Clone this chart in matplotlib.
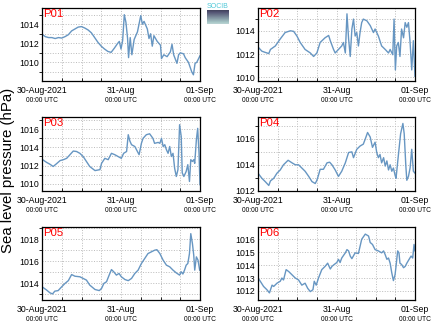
import matplotlib
matplotlib.use('Agg')
import matplotlib.pyplot as plt
import numpy as np
from matplotlib.ticker import MultipleLocator, FixedLocator

plt.rcParams['font.family'] = ['Liberation Sans', 'DejaVu Sans']

# hours since 30-Aug-2021 00:00 UTC and sea level pressure (hPa) per station
p01_h = [0, 1, 2, 3, 4, 5, 6, 7, 8, 9, 10, 11, 12, 13, 14, 15, 16, 17, 18, 19, 20, 21, 22, 23,
         23.5, 24, 24.5, 25, 25.5, 26, 26.3, 26.8, 27.3, 28, 29, 30, 30.5, 31, 32, 32.5, 33, 33.5,
         34, 35, 36, 36.3, 37, 38, 39, 39.5, 40, 41, 41.5, 42, 43, 43.5, 44.5, 45.5, 46, 46.5, 47, 48]
p01_v = [1012.95, 1012.7, 1012.6, 1012.6, 1012.5, 1012.6, 1012.55, 1012.7, 1012.9, 1013.3, 1013.5,
         1013.7, 1013.75, 1013.6, 1013.4, 1013.1, 1012.6, 1012.1, 1011.7, 1011.4, 1011.15, 1011.05,
         1011.5, 1012.0, 1012.2, 1011.4, 1012.3, 1015.0, 1014.2, 1012.5, 1010.5, 1012.6, 1010.8,
         1012.4, 1013.2, 1014.9, 1014.0, 1014.3, 1013.5, 1012.5, 1013.0, 1011.7, 1012.8, 1012.2,
         1011.8, 1010.4, 1010.8, 1010.6, 1011.1, 1011.9, 1010.8, 1009.9, 1010.8, 1011.0, 1010.9,
         1010.5, 1010.0, 1009.0, 1008.7, 1009.9, 1010.0, 1010.7]

p02_h = [0.2, 1.2, 2.2, 3.3, 3.8, 5.3, 6.8, 8.3, 9.9, 10.9, 11.9, 12.9, 14.4, 16.0, 17.0, 18.0,
         19.0, 20.5, 21.6, 22.1, 23.1, 23.6, 24.6, 25.6, 26.1, 26.7, 27.2, 27.7, 28.2, 28.7, 29.2,
         29.7, 30.2, 30.7, 31.2, 31.7, 32.2, 33.3, 34.3, 35.3, 35.8, 36.8, 37.8, 38.9, 39.9, 40.4,
         41.2, 41.6, 42.0, 42.4, 42.9, 43.4, 43.9, 44.5, 45.0, 45.5, 46.0, 46.5, 47.0, 47.5, 48.0]
p02_v = [1012.55, 1012.25, 1012.15, 1012.05, 1012.4, 1012.7, 1013.3, 1013.85, 1014.0, 1013.95,
         1013.55, 1013.0, 1012.4, 1012.1, 1011.8, 1012.1, 1013.0, 1013.4, 1013.6, 1013.15, 1012.4,
         1012.1, 1012.4, 1012.7, 1013.0, 1012.1, 1015.45, 1013.3, 1011.8, 1014.15, 1015.0, 1013.55,
         1013.85, 1012.7, 1013.85, 1014.7, 1015.0, 1014.85, 1014.45, 1013.85, 1014.15, 1013.55,
         1012.7, 1012.4, 1012.1, 1012.4, 1011.95, 1015.0, 1010.65, 1012.7, 1013.0, 1011.8, 1014.15,
         1013.4, 1014.7, 1014.3, 1014.7, 1013.0, 1010.65, 1013.15, 1010.1]

p03_h = [0, 1.4, 2.4, 3.4, 4.4, 5.5, 6.5, 7.5, 8.5, 9.5, 10.5, 11.5, 12.5, 13.5, 14.5, 16.1, 17.6,
         18.1, 19.1, 20.1, 21.1, 22.1, 23.1, 24.1, 24.8, 25.7, 26.2, 26.7, 27.2, 28.2, 28.7, 29.5,
         30.2, 30.7, 31.7, 32.7, 33.7, 34.2, 35.3, 35.8, 36.3, 36.8, 37.3, 37.8, 38.3, 38.8, 39.3,
         39.8, 40.3, 40.8, 41.3, 41.8, 42.3, 42.6, 43.1, 43.8, 44.3, 44.8, 45.2, 45.7, 46.1, 46.4,
         46.9, 47.3, 47.7, 48.0]
p03_v = [1012.7, 1012.35, 1012.15, 1011.9, 1012.2, 1012.55, 1012.65, 1012.8, 1013.2, 1013.6,
         1013.55, 1013.35, 1013.0, 1012.45, 1011.9, 1011.45, 1011.55, 1012.25, 1012.8, 1012.65,
         1013.35, 1013.2, 1013.0, 1012.8, 1013.35, 1013.55, 1015.4, 1014.7, 1014.3, 1014.1, 1013.75,
         1013.2, 1014.45, 1015.0, 1015.4, 1015.5, 1015.0, 1014.45, 1014.55, 1014.45, 1015.0, 1014.1,
         1014.3, 1013.75, 1013.35, 1014.1, 1013.0, 1013.35, 1011.7, 1010.8, 1011.55, 1016.5, 1015.2,
         1011.2, 1010.8, 1011.35, 1012.1, 1010.25, 1012.65, 1012.45, 1012.65, 1012.25, 1014.85,
         1016.1, 1013.35, 1009.9]

p04_h = [0, 1.2, 2.2, 3.3, 3.8, 4.8, 5.8, 6.8, 7.8, 9.2, 10.4, 11.4, 12.4, 13.4, 14.4, 15.5, 16.5,
         17.5, 18.0, 18.5, 19.0, 20.0, 21.1, 21.9, 22.6, 23.6, 24.6, 25.6, 26.7, 27.7, 28.7, 29.2,
         30.2, 31.2, 32.2, 32.8, 33.5, 34.3, 35.0, 35.8, 36.3, 36.8, 37.3, 37.8, 38.4, 38.9, 39.4,
         39.9, 40.4, 40.9, 41.4, 41.9, 42.2, 42.9, 43.6, 44.3, 44.7, 45.2, 45.5, 46.0, 46.5, 47.0,
         47.5, 48.0]
p04_v = [1013.35, 1012.95, 1012.7, 1012.4, 1012.75, 1012.95, 1013.35, 1013.6, 1014.0, 1014.35,
         1014.15, 1014.0, 1014.0, 1013.75, 1013.5, 1013.1, 1012.7, 1012.55, 1012.8, 1013.2, 1013.65,
         1013.65, 1014.15, 1014.2, 1014.0, 1013.6, 1013.1, 1013.5, 1014.15, 1014.95, 1015.0, 1014.55,
         1015.2, 1015.45, 1015.6, 1016.0, 1016.5, 1016.15, 1015.35, 1015.75, 1014.95, 1014.55, 1014.8,
         1014.15, 1014.55, 1013.9, 1014.3, 1013.6, 1014.0, 1013.5, 1013.75, 1013.2, 1012.95, 1014.7,
         1016.4, 1017.2, 1016.4, 1013.9, 1012.8, 1013.1, 1013.75, 1015.2, 1013.5, 1013.35]

p05_h = [0, 1.4, 2.4, 3.2, 3.9, 4.9, 6.0, 7.0, 8.0, 9.0, 10.0, 11.5, 12.5, 13.5, 14.5, 16.1, 17.4,
         18.1, 18.8, 19.6, 20.4, 21.1, 21.8, 22.6, 23.4, 24.1, 25.2, 26.2, 27.2, 28.2, 29.2, 30.2,
         31.2, 32.2, 33.2, 34.2, 34.9, 35.8, 36.8, 37.8, 38.8, 39.8, 40.8, 41.8, 42.3, 42.8, 43.3,
         43.8, 44.3, 44.8, 45.2, 45.7, 46.1, 46.4, 46.9, 47.4, 47.9]
p05_v = [1013.7, 1013.4, 1013.15, 1013.05, 1013.3, 1013.35, 1013.7, 1014.0, 1014.25, 1014.8,
         1014.65, 1014.6, 1014.45, 1014.3, 1013.85, 1013.45, 1013.35, 1013.55, 1014.0, 1014.15,
         1014.75, 1015.25, 1015.05, 1014.75, 1014.9, 1014.6, 1014.35, 1014.25, 1014.45, 1014.9,
         1015.2, 1015.8, 1016.25, 1016.7, 1016.85, 1017.0, 1017.05, 1016.7, 1016.1, 1015.65, 1015.5,
         1015.2, 1014.95, 1014.75, 1015.05, 1014.85, 1015.2, 1015.65, 1015.8, 1016.7, 1018.5, 1017.6,
         1016.55, 1015.2, 1016.4, 1016.1, 1015.2]

p06_h = [0, 0.7, 1.7, 2.7, 3.5, 4.3, 4.8, 5.8, 6.8, 7.3, 7.8, 8.6, 9.4, 10.4, 11.4, 12.4, 13.4,
         14.4, 15.2, 16.0, 16.8, 17.2, 17.8, 18.5, 19.5, 20.5, 21.3, 22.1, 22.6, 23.3, 24.1, 24.6,
         25.1, 25.6, 26.7, 27.2, 27.7, 28.2, 28.7, 29.7, 30.7, 31.7, 32.8, 33.8, 34.3, 35.0, 35.8,
         36.8, 37.8, 38.4, 38.9, 39.4, 39.9, 40.4, 40.9, 41.4, 41.9, 42.2, 42.7, 43.1, 43.4, 43.9,
         44.5, 45.0, 45.5, 46.2, 46.8, 47.3, 47.7, 48.0]
p06_v = [1013.0, 1012.75, 1012.35, 1012.1, 1011.85, 1012.45, 1012.35, 1012.6, 1012.75, 1013.0,
         1012.85, 1013.65, 1013.5, 1013.25, 1013.0, 1012.85, 1012.45, 1012.6, 1012.2, 1011.95,
         1012.1, 1012.75, 1012.45, 1013.0, 1013.65, 1013.9, 1014.15, 1013.7, 1013.9, 1014.05, 1014.2,
         1014.45, 1014.2, 1014.55, 1014.95, 1015.2, 1015.1, 1014.7, 1014.5, 1014.95, 1014.9, 1016.0,
         1016.4, 1016.25, 1015.75, 1015.6, 1015.2, 1015.1, 1014.95, 1015.1, 1014.8, 1014.45, 1014.55,
         1014.15, 1013.4, 1012.8, 1013.25, 1013.9, 1015.1, 1014.95, 1014.15, 1014.05, 1013.8, 1013.9,
         1014.15, 1014.45, 1014.7, 1014.55, 1015.6, 1015.1]

stations = ['P01', 'P02', 'P03', 'P04', 'P05', 'P06']
hours = [p01_h, p02_h, p03_h, p04_h, p05_h, p06_h]
values = [p01_v, p02_v, p03_v, p04_v, p05_v, p06_v]
ylims = [(1008.05, 1015.7), (1009.7, 1015.95), (1009.2, 1017.35),
         (1011.97, 1017.7), (1012.5, 1019.1), (1011.3, 1016.95)]
ystep = [2, 2, 2, 2, 2, 1]
date_labels = ['30-Aug-2021', '31-Aug', '01-Sep']
time_label = '00:00 UTC'

fig = plt.figure(figsize=(4.34, 3.27), dpi=100)
col_x = [42 / 434, 258 / 434]
col_w = [158 / 434, 157 / 434]
row_y = [1 - 81 / 327, 1 - 191 / 327, 1 - 300 / 327]
row_h = [73 / 327, 74 / 327, 73 / 327]

for i, name in enumerate(stations):
    r, c = i // 2, i % 2
    ax = fig.add_axes([col_x[c], row_y[r], col_w[c], row_h[r]])
    ax.plot(hours[i], values[i], color='#6796c2', lw=1.0)
    ax.set_xlim(0, 48)
    ax.set_ylim(*ylims[i])
    ax.xaxis.set_major_locator(FixedLocator([0, 24, 48]))
    ax.xaxis.set_minor_locator(MultipleLocator(6))
    ax.set_xticklabels(date_labels, fontsize=6.3)
    ax.yaxis.set_major_locator(MultipleLocator(ystep[i]))
    ax.yaxis.set_minor_locator(MultipleLocator(1))
    ax.tick_params(axis='y', labelsize=6.3, length=0, pad=2)
    ax.tick_params(axis='x', which='major', length=0, pad=3.5)
    ax.tick_params(axis='x', which='minor', direction='in', length=2, width=0.6)
    ax.grid(True, which='both', color='#bbbbbb', linestyle=':', linewidth=0.7)
    for s in ax.spines.values():
        s.set_linewidth(0.9)
    for t in [0, 24, 48]:
        ax.annotate(time_label, xy=(t, 0), xycoords=('data', 'axes fraction'),
                    xytext=(0, -11.5), textcoords='offset points',
                    ha='center', va='top', fontsize=4.8)
    ax.text(0.01, 0.98, name, transform=ax.transAxes, color='red',
            fontsize=8.2, ha='left', va='top')

fig.text(0.018, 0.48, 'Sea level pressure (hPa)', rotation=90,
         ha='center', va='center', fontsize=10.8)

# small logo in the top centre
lax = fig.add_axes([207 / 434, 1 - 24 / 327, 22 / 434, 14 / 327])
grad = np.linspace(0, 1, 20).reshape(-1, 1)
lax.imshow(grad, aspect='auto', cmap='bone', vmin=-0.6, vmax=1.4)
lax.axis('off')
fig.text(218 / 434, 1 - 6 / 327, 'SOCIB', color='#4fc8d8', fontsize=5,
         ha='center', va='center')

fig.savefig('out.png', dpi=100)
